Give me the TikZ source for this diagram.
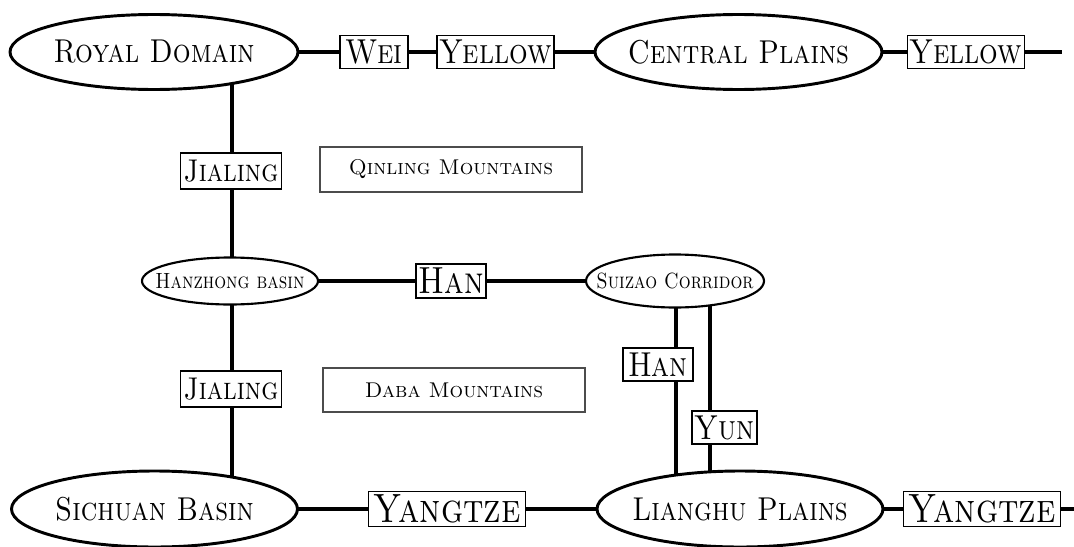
\documentclass[tikz,border=0pt]{standalone}
\usepackage{fontspec}
\usepackage{graphicx}
\usetikzlibrary{shapes.geometric}
\pgfdeclarelayer{bg}
\pgfsetlayers{bg,main}
\newcommand{\tallsc}[1]{\scalebox{1}[1.18]{\scshape #1}}
\begin{document}
\begin{tikzpicture}[x=0.75pt,y=-0.75pt,
  region/.style={ellipse, draw, line width=2.2pt, fill=white, inner sep=-40pt, font=\fontsize{21}{21}\selectfont},
  river/.style={draw, line width=1.4pt, fill=white, inner sep=0pt},
  mountbox/.style={draw=black!70, line width=0.9pt, fill=white, inner sep=0pt, font=\fontsize{16}{16}\selectfont\scshape\addfontfeature{FakeBold=0.6}},
  hlink/.style={line width=2.9pt},
  vlink/.style={line width=2.4pt}]
\useasboundingbox (0,0) rectangle (1074,546);
% regions
\node[region, minimum width=216pt, minimum height=56.25pt] (royal) at (154,52) {\tallsc{Royal Domain}};
\node[region, minimum width=215.25pt, minimum height=56.25pt] (central) at (738.5,52) {\tallsc{Central Plains}};
\node[region, minimum width=214.5pt, minimum height=57pt] (sichuan) at (154.5,509) {\tallsc{Sichuan Basin}};
\node[region, minimum width=214.5pt, minimum height=57pt] (lianghu) at (740,509) {\tallsc{Lianghu Plains}};
\node[region, line width=1.6pt, minimum width=132pt, minimum height=35.25pt, font=\fontsize{14}{14}\selectfont] (hanzhong) at (230,281) {\tallsc{Hanzhong basin}};
\node[region, line width=1.6pt, minimum width=133.5pt, minimum height=39.75pt, font=\fontsize{14}{14}\selectfont] (suizao) at (675,281) {\tallsc{Suizao Corridor}};
% rivers
\node[river, minimum width=51pt, minimum height=24.75pt, font=\fontsize{22}{22}\selectfont] (wei) at (374,52) {\tallsc{Wei}};
\node[river, minimum width=87.75pt, minimum height=24.75pt, font=\fontsize{22}{22}\selectfont] (yellow1) at (495.5,52) {\tallsc{Yellow}};
\node[river, minimum width=87.75pt, minimum height=24.75pt, font=\fontsize{22}{22}\selectfont] (yellow2) at (966,52) {\tallsc{Yellow}};
\node[river, minimum width=75.75pt, minimum height=27pt, font=\fontsize{20}{20}\selectfont] (jial1) at (231,171) {\tallsc{Jialing}};
\node[river, minimum width=75.75pt, minimum height=27pt, font=\fontsize{20}{20}\selectfont] (jial2) at (231,389) {\tallsc{Jialing}};
\node[river, minimum width=52.5pt, minimum height=25.5pt, font=\fontsize{24}{24}\selectfont] (hanm) at (451,281) {\tallsc{Han}};
\node[river, minimum width=52.5pt, minimum height=24.75pt, font=\fontsize{22}{22}\selectfont] (hanv) at (658,364.5) {\tallsc{Han}};
\node[river, minimum width=48.75pt, minimum height=24.75pt, font=\fontsize{22}{22}\selectfont] (yun) at (724.5,427.5) {\tallsc{Yun}};
\node[river, minimum width=117.75pt, minimum height=26.25pt, font=\fontsize{26}{26}\selectfont] (yangtze1) at (447,509) {\tallsc{Yangtze}};
\node[river, minimum width=117.75pt, minimum height=26.25pt, font=\fontsize{26}{26}\selectfont] (yangtze2) at (982,509) {\tallsc{Yangtze}};
% mountain ranges
\node[mountbox, minimum width=196.5pt, minimum height=33.75pt] (qinling) at (451,169.5) {Qinling Mountains};
\node[mountbox, minimum width=196.5pt, minimum height=33pt] (daba) at (454,390) {Daba Mountains};
% free ends
\coordinate (topend) at (1062,52);
\coordinate (botend) at (1074,509);
\coordinate (jx) at (232,0);
\coordinate (hx) at (676,0);
\coordinate (yx) at (710,0);
\begin{pgfonlayer}{bg}
\draw[hlink] (royal.center) -- (wei) -- (yellow1) -- (central) -- (yellow2) -- (topend);
\draw[vlink] (royal.center -| jx) -- (jial1.center -| jx) -- (hanzhong.center -| jx);
\draw[vlink] (hanzhong.center -| jx) -- (jial2.center -| jx) -- (sichuan.center -| jx);
\draw[hlink] (hanzhong) -- (hanm) -- (suizao);
\draw[vlink] (suizao.center -| hx) -- (lianghu.center -| hx);
\draw[vlink] (suizao.center -| yx) -- (lianghu.center -| yx);
\draw[hlink] (sichuan.center) -- (yangtze1) -- (lianghu) -- (yangtze2) -- (botend);
\end{pgfonlayer}
\end{tikzpicture}
\end{document}
